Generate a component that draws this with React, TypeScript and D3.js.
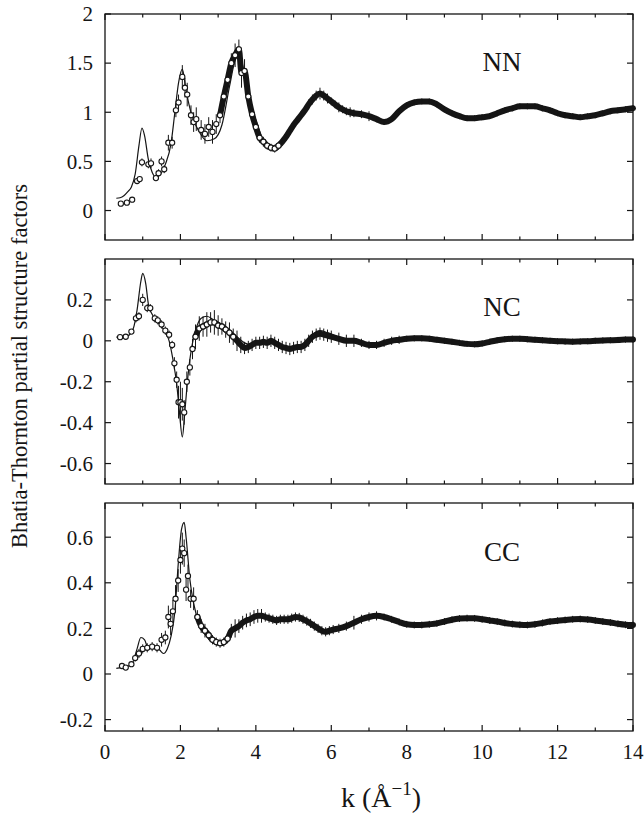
import React from 'react';
import * as d3 from 'd3';

// ---------- axis ticks ----------
const kMajor = [0, 2, 4, 6, 8, 10, 12, 14];
const kMinor = [1, 3, 5, 7, 9, 11, 13];
const nnTicks = [0, 0.5, 1, 1.5, 2];
const ncTicks = [-0.6, -0.4, -0.2, 0, 0.2];
const ccTicks = [-0.2, 0, 0.2, 0.4, 0.6];

// ---------- NN ----------
const nnModel: [number, number][] = [
  [0.3, 0.125], [0.4, 0.13], [0.5, 0.15], [0.6, 0.19], [0.7, 0.24], [0.8, 0.37], [0.9, 0.66], [0.98, 0.84],
  [1.05, 0.76], [1.15, 0.52], [1.25, 0.39], [1.35, 0.34], [1.45, 0.36], [1.6, 0.47], [1.75, 0.68], [1.85, 0.99],
  [1.95, 1.3], [2.05, 1.44], [2.15, 1.22], [2.3, 0.97], [2.5, 0.8], [2.7, 0.71], [2.9, 0.73], [3.1, 0.87],
  [3.3, 1.26], [3.45, 1.53], [3.55, 1.6], [3.7, 1.39], [3.85, 1.12], [4.0, 0.92], [4.2, 0.71], [4.4, 0.63],
  [4.6, 0.66], [4.8, 0.76], [5.0, 0.87], [5.3, 1.02], [5.6, 1.18], [5.8, 1.17], [6.0, 1.11], [6.3, 1.03],
  [6.6, 0.99], [7.0, 0.96], [7.3, 0.91], [7.5, 0.91], [7.8, 1.01], [8.1, 1.09], [8.4, 1.11], [8.7, 1.1],
  [9.0, 1.03], [9.3, 0.97], [9.6, 0.94], [9.9, 0.94], [10.2, 0.96], [10.5, 1.0], [10.8, 1.04], [11.1, 1.06],
  [11.4, 1.06], [11.7, 1.03], [12.0, 0.99], [12.3, 0.96], [12.6, 0.95], [12.9, 0.96], [13.2, 0.99], [13.5, 1.01],
  [13.8, 1.03], [14.0, 1.04],
];
const nnData: [number, number, number][] = [
  [0.42, 0.07, 0.01], [0.58, 0.08, 0.01], [0.72, 0.11, 0.015], [0.85, 0.3, 0.03], [0.92, 0.32, 0.03],
  [0.98, 0.49, 0.04], [1.15, 0.47, 0.04], [1.22, 0.48, 0.05], [1.35, 0.33, 0.03], [1.42, 0.38, 0.04],
  [1.5, 0.5, 0.05], [1.57, 0.42, 0.04], [1.68, 0.69, 0.08], [1.78, 0.69, 0.06], [1.88, 1.02, 0.07],
  [1.95, 1.1, 0.08], [2.05, 1.36, 0.12], [2.12, 1.25, 0.1], [2.18, 1.18, 0.12], [2.28, 0.97, 0.1],
  [2.35, 0.9, 0.1], [2.42, 0.93, 0.12], [2.55, 0.82, 0.1], [2.65, 0.78, 0.1], [2.75, 0.85, 0.1],
  [2.85, 0.8, 0.12], [2.95, 0.88, 0.1], [3.05, 0.97, 0.08], [3.15, 1.16, 0.1], [3.25, 1.33, 0.1],
  [3.35, 1.5, 0.1], [3.45, 1.58, 0.12], [3.55, 1.64, 0.1], [3.62, 1.4, 0.15], [3.7, 1.42, 0.12],
  [3.8, 1.16, 0.08], [3.9, 0.98, 0.06], [4.0, 0.85, 0.06], [4.1, 0.74, 0.05], [4.2, 0.7, 0.05],
  [4.3, 0.66, 0.04], [4.4, 0.64, 0.04], [4.5, 0.63, 0.04], [4.6, 0.66, 0.04], [4.7, 0.7, 0.04],
  [4.8, 0.75, 0.04], [4.9, 0.81, 0.04], [5.0, 0.87, 0.04], [5.1, 0.92, 0.04], [5.2, 0.97, 0.04],
  [5.3, 1.02, 0.04], [5.4, 1.08, 0.05], [5.5, 1.13, 0.05], [5.6, 1.17, 0.05], [5.7, 1.19, 0.06],
  [5.8, 1.17, 0.05], [5.9, 1.14, 0.05], [6.0, 1.11, 0.04], [6.1, 1.08, 0.04], [6.2, 1.05, 0.05],
  [6.3, 1.03, 0.04], [6.4, 1.01, 0.04], [6.5, 1.0, 0.05], [6.6, 0.99, 0.04], [6.8, 0.98, 0.04],
  [7.0, 0.96, 0.05], [7.2, 0.93, 0.03], [7.4, 0.9, 0.03], [7.6, 0.93, 0.03], [7.8, 1.01, 0.03],
  [8.0, 1.07, 0.03], [8.2, 1.1, 0.03], [8.4, 1.11, 0.03], [8.6, 1.11, 0.03], [8.8, 1.08, 0.03],
  [9.0, 1.03, 0.03], [9.2, 0.99, 0.03], [9.4, 0.96, 0.03], [9.6, 0.94, 0.03], [9.8, 0.94, 0.03],
  [10.0, 0.95, 0.03], [10.2, 0.96, 0.03], [10.4, 0.99, 0.03], [10.6, 1.02, 0.03], [10.8, 1.04, 0.03],
  [11.0, 1.06, 0.03], [11.2, 1.06, 0.03], [11.4, 1.06, 0.03], [11.6, 1.04, 0.03], [11.8, 1.02, 0.03],
  [12.0, 0.99, 0.03], [12.2, 0.97, 0.03], [12.4, 0.96, 0.03], [12.6, 0.95, 0.03], [12.8, 0.96, 0.03],
  [13.0, 0.97, 0.03], [13.2, 0.99, 0.03], [13.4, 1.01, 0.03], [13.6, 1.02, 0.03], [13.8, 1.03, 0.03],
  [14.0, 1.04, 0.03],
];

// ---------- NC ----------
const ncModel: [number, number][] = [
  [0.3, 0.018], [0.6, 0.024], [0.75, 0.06], [0.85, 0.15], [0.95, 0.29], [1.0, 0.33], [1.08, 0.28],
  [1.15, 0.18], [1.25, 0.13], [1.35, 0.1], [1.5, 0.07], [1.6, 0.04], [1.7, 0.0], [1.8, -0.09],
  [1.9, -0.21], [1.97, -0.34], [2.05, -0.47], [2.12, -0.34], [2.2, -0.17], [2.3, -0.03], [2.4, 0.05],
  [2.55, 0.11], [2.7, 0.12], [2.9, 0.1], [3.1, 0.08], [3.3, 0.05], [3.5, 0.02], [3.7, -0.01],
  [3.9, -0.02], [4.2, -0.005], [4.5, -0.01], [4.8, -0.03], [5.0, -0.035], [5.3, -0.02], [5.5, 0.03],
  [5.7, 0.05], [5.9, 0.04], [6.2, 0.018], [6.6, 0.005], [6.9, -0.015], [7.1, -0.02], [7.4, -0.003],
  [7.7, 0.008], [8.0, 0.015], [8.3, 0.018], [8.6, 0.015], [8.9, 0.008], [9.2, -0.003], [9.5, -0.011],
  [9.8, -0.015], [10.0, -0.01], [10.3, 0.002], [10.6, 0.01], [10.9, 0.013], [11.2, 0.011], [11.5, 0.008],
  [11.8, 0.005], [12.1, 0.002], [12.4, 0.0], [12.7, 0.0], [13.0, 0.002], [13.3, 0.005], [13.6, 0.006],
  [14.0, 0.01],
];
const ncData: [number, number, number][] = [
  [0.4, 0.018, 0.01], [0.55, 0.02, 0.01], [0.7, 0.045, 0.01], [0.82, 0.11, 0.02], [0.9, 0.12, 0.02],
  [1.0, 0.2, 0.03], [1.12, 0.16, 0.02], [1.2, 0.16, 0.02], [1.32, 0.11, 0.02], [1.4, 0.1, 0.02],
  [1.5, 0.08, 0.02], [1.6, 0.05, 0.02], [1.7, 0.03, 0.02], [1.78, -0.02, 0.02], [1.84, -0.11, 0.03],
  [1.9, -0.19, 0.04], [1.95, -0.3, 0.08], [2.0, -0.3, 0.1], [2.05, -0.31, 0.08], [2.1, -0.35, 0.06],
  [2.17, -0.2, 0.05], [2.25, -0.13, 0.04], [2.32, -0.04, 0.05], [2.4, 0.02, 0.06], [2.5, 0.06, 0.06],
  [2.6, 0.07, 0.05], [2.7, 0.08, 0.06], [2.8, 0.09, 0.05], [2.9, 0.09, 0.06], [3.0, 0.075, 0.05],
  [3.1, 0.07, 0.04], [3.2, 0.055, 0.04], [3.3, 0.04, 0.05], [3.4, 0.02, 0.04], [3.5, 0.0, 0.05],
  [3.6, -0.02, 0.04], [3.7, -0.035, 0.03], [3.8, -0.03, 0.03], [3.9, -0.02, 0.03], [4.0, -0.01, 0.03],
  [4.1, -0.01, 0.03], [4.2, -0.005, 0.03], [4.3, -0.01, 0.03], [4.4, 0.0, 0.03], [4.5, -0.01, 0.03],
  [4.6, -0.02, 0.03], [4.7, -0.03, 0.03], [4.8, -0.035, 0.03], [4.9, -0.04, 0.03], [5.0, -0.035, 0.03],
  [5.1, -0.03, 0.03], [5.2, -0.03, 0.03], [5.3, -0.02, 0.03], [5.4, 0.0, 0.03], [5.5, 0.02, 0.03],
  [5.6, 0.03, 0.03], [5.7, 0.035, 0.03], [5.8, 0.03, 0.03], [5.9, 0.025, 0.03], [6.0, 0.02, 0.03],
  [6.2, 0.01, 0.03], [6.4, 0.0, 0.03], [6.6, 0.0, 0.03], [6.8, -0.01, 0.02], [7.0, -0.02, 0.02],
  [7.2, -0.02, 0.02], [7.4, -0.01, 0.02], [7.6, 0.0, 0.02], [7.8, 0.005, 0.02], [8.0, 0.01, 0.015],
  [8.2, 0.012, 0.015], [8.4, 0.012, 0.015], [8.6, 0.01, 0.015], [8.8, 0.005, 0.015], [9.0, 0.0, 0.015],
  [9.2, -0.005, 0.015], [9.4, -0.01, 0.015], [9.6, -0.015, 0.015], [9.8, -0.017, 0.015], [10.0, -0.013, 0.015],
  [10.2, -0.005, 0.015], [10.4, 0.003, 0.015], [10.6, 0.008, 0.015], [10.8, 0.01, 0.015], [11.0, 0.01, 0.015],
  [11.2, 0.008, 0.015], [11.4, 0.005, 0.015], [11.6, 0.003, 0.015], [11.8, 0.0, 0.015], [12.0, -0.002, 0.015],
  [12.2, -0.003, 0.015], [12.4, -0.004, 0.015], [12.6, -0.003, 0.015], [12.8, -0.002, 0.015], [13.0, 0.0, 0.015],
  [13.2, 0.002, 0.015], [13.4, 0.003, 0.015], [13.6, 0.004, 0.015], [13.8, 0.006, 0.015], [14.0, 0.007, 0.015],
];

// ---------- CC ----------
const ccModel: [number, number][] = [
  [0.3, 0.025], [0.5, 0.03], [0.7, 0.04], [0.85, 0.11], [0.95, 0.16], [1.05, 0.15], [1.15, 0.11],
  [1.3, 0.12], [1.45, 0.105], [1.55, 0.09], [1.65, 0.11], [1.75, 0.165], [1.85, 0.27], [1.95, 0.5],
  [2.03, 0.635], [2.1, 0.665], [2.15, 0.6], [2.25, 0.415], [2.35, 0.31], [2.5, 0.22], [2.7, 0.165],
  [2.9, 0.14], [3.0, 0.135], [3.2, 0.15], [3.4, 0.185], [3.6, 0.22], [3.9, 0.25], [4.2, 0.253],
  [4.5, 0.24], [4.8, 0.24], [5.1, 0.25], [5.4, 0.23], [5.7, 0.195], [5.9, 0.18], [6.2, 0.2],
  [6.5, 0.22], [6.9, 0.246], [7.2, 0.256], [7.5, 0.246], [7.8, 0.227], [8.1, 0.216], [8.4, 0.216],
  [8.7, 0.22], [9.0, 0.231], [9.3, 0.241], [9.6, 0.246], [9.9, 0.243], [10.2, 0.235], [10.5, 0.227],
  [10.8, 0.219], [11.1, 0.215], [11.4, 0.219], [11.7, 0.227], [12.0, 0.234], [12.3, 0.238], [12.6, 0.241],
  [12.9, 0.238], [13.2, 0.231], [13.5, 0.224], [13.8, 0.216], [14.0, 0.216],
];
const ccData: [number, number, number][] = [
  [0.45, 0.035, 0.01], [0.55, 0.028, 0.01], [0.7, 0.043, 0.01], [0.8, 0.07, 0.015], [0.9, 0.09, 0.02],
  [1.0, 0.11, 0.02], [1.12, 0.115, 0.02], [1.25, 0.12, 0.02], [1.38, 0.115, 0.02], [1.5, 0.15, 0.03],
  [1.6, 0.16, 0.03], [1.68, 0.25, 0.05], [1.74, 0.22, 0.05], [1.8, 0.275, 0.05], [1.87, 0.33, 0.06],
  [1.94, 0.41, 0.05], [2.0, 0.5, 0.06], [2.05, 0.55, 0.07], [2.1, 0.53, 0.06], [2.15, 0.37, 0.05],
  [2.2, 0.43, 0.05], [2.27, 0.33, 0.04], [2.35, 0.33, 0.05], [2.45, 0.25, 0.03], [2.55, 0.21, 0.03],
  [2.65, 0.19, 0.03], [2.75, 0.17, 0.02], [2.85, 0.15, 0.02], [2.95, 0.14, 0.02], [3.05, 0.135, 0.02],
  [3.15, 0.14, 0.02], [3.25, 0.155, 0.02], [3.35, 0.19, 0.03], [3.45, 0.2, 0.04], [3.55, 0.21, 0.03],
  [3.65, 0.225, 0.03], [3.75, 0.235, 0.03], [3.85, 0.24, 0.03], [3.95, 0.25, 0.03], [4.05, 0.255, 0.03],
  [4.15, 0.255, 0.03], [4.25, 0.25, 0.02], [4.35, 0.245, 0.02], [4.45, 0.24, 0.02], [4.55, 0.235, 0.02],
  [4.65, 0.24, 0.02], [4.75, 0.24, 0.02], [4.85, 0.24, 0.02], [4.95, 0.245, 0.02], [5.05, 0.25, 0.02],
  [5.15, 0.248, 0.02], [5.25, 0.24, 0.02], [5.35, 0.232, 0.02], [5.45, 0.222, 0.02], [5.55, 0.21, 0.02],
  [5.65, 0.2, 0.02], [5.75, 0.19, 0.02], [5.85, 0.185, 0.02], [5.95, 0.19, 0.02], [6.05, 0.195, 0.02],
  [6.2, 0.2, 0.02], [6.4, 0.21, 0.02], [6.6, 0.225, 0.03], [6.8, 0.24, 0.02], [7.0, 0.25, 0.02],
  [7.2, 0.255, 0.02], [7.4, 0.25, 0.015], [7.6, 0.24, 0.015], [7.8, 0.228, 0.015], [8.0, 0.218, 0.015],
  [8.2, 0.215, 0.015], [8.4, 0.215, 0.015], [8.6, 0.218, 0.015], [8.8, 0.222, 0.015], [9.0, 0.23, 0.015],
  [9.2, 0.238, 0.015], [9.4, 0.243, 0.015], [9.6, 0.245, 0.015], [9.8, 0.244, 0.015], [10.0, 0.24, 0.015],
  [10.2, 0.235, 0.015], [10.4, 0.23, 0.015], [10.6, 0.224, 0.015], [10.8, 0.219, 0.015], [11.0, 0.216, 0.015],
  [11.2, 0.215, 0.015], [11.4, 0.218, 0.015], [11.6, 0.224, 0.015], [11.8, 0.23, 0.015], [12.0, 0.234, 0.015],
  [12.2, 0.237, 0.015], [12.4, 0.24, 0.015], [12.6, 0.241, 0.015], [12.8, 0.239, 0.015], [13.0, 0.235, 0.015],
  [13.2, 0.23, 0.015], [13.4, 0.226, 0.015], [13.6, 0.22, 0.015], [13.8, 0.216, 0.015], [14.0, 0.215, 0.015],
];

const panels = [
  { name: 'NN', model: nnModel, data: nnData, domain: [-0.3, 2], top: 14, bottom: 240, ticks: nnTicks, bandFrom: 3.0, circlesTo: 4.65, labelY: 71 },
  { name: 'NC', model: ncModel, data: ncData, domain: [-0.7, 0.4], top: 259, bottom: 484, ticks: ncTicks, bandFrom: 2.4, circlesTo: 3.45, labelY: 316 },
  { name: 'CC', model: ccModel, data: ccData, domain: [-0.25, 0.75], top: 503, bottom: 731, ticks: ccTicks, bandFrom: 2.4, circlesTo: 3.3, labelY: 561 },
];

const INK = '#151515';
const FONT = "'Liberation Serif','Times New Roman',serif";

export default function App() {
  const x = d3.scaleLinear().domain([0, 14]).range([105, 633]);
  const x0 = x(0), x1 = x(14);

  return (
    <svg width={644} height={817} style={{ position: 'absolute', left: 0, top: 0, background: '#fff' }} fontFamily={FONT}>
      <rect x={0} y={0} width={644} height={817} fill="#fff" />
      {panels.map((p) => {
        const y = d3.scaleLinear().domain(p.domain).range([p.bottom, p.top]);
        const modelLine = d3.line<[number, number]>().x((d) => x(d[0])).y((d) => y(d[1])).curve(d3.curveMonotoneX);
        const bandLine = d3.line<[number, number, number]>().x((d) => x(d[0])).y((d) => y(d[1])).curve(d3.curveMonotoneX);
        const band = p.data.filter((d) => d[0] >= p.bandFrom);
        const circles = p.data.filter((d) => d[0] <= p.circlesTo);
        return (
          <g key={p.name}>
            {/* model curve */}
            <path d={modelLine(p.model) || ''} fill="none" stroke={INK} strokeWidth={1.2} />
            {/* dense data band */}
            <path d={bandLine(band) || ''} fill="none" stroke={INK} strokeWidth={6} strokeLinecap="round" strokeLinejoin="round" />
            {/* error bars */}
            {p.data.map((d, i) => (
              <line key={'e' + i} x1={x(d[0])} x2={x(d[0])} y1={y(d[1] - d[2])} y2={y(d[1] + d[2])} stroke={INK} strokeWidth={1} />
            ))}
            {/* open circles */}
            {circles.map((d, i) => (
              <circle key={'c' + i} cx={x(d[0])} cy={y(d[1])} r={2.6} fill="#fff" stroke={INK} strokeWidth={1.1} />
            ))}
            {/* frame */}
            <rect x={x0} y={p.top} width={x1 - x0} height={p.bottom - p.top} fill="none" stroke={INK} strokeWidth={1.3} />
            {/* x ticks */}
            {kMajor.map((k) => (
              <g key={'M' + k}>
                <line x1={x(k)} x2={x(k)} y1={p.bottom} y2={p.bottom - 6} stroke={INK} strokeWidth={1.2} />
                <line x1={x(k)} x2={x(k)} y1={p.top} y2={p.top + 6} stroke={INK} strokeWidth={1.2} />
              </g>
            ))}
            {kMinor.map((k) => (
              <g key={'m' + k}>
                <line x1={x(k)} x2={x(k)} y1={p.bottom} y2={p.bottom - 3.5} stroke={INK} strokeWidth={1.2} />
                <line x1={x(k)} x2={x(k)} y1={p.top} y2={p.top + 3.5} stroke={INK} strokeWidth={1.2} />
              </g>
            ))}
            {/* y ticks + labels */}
            {p.ticks.map((t) => (
              <g key={'y' + t}>
                <line x1={x0} x2={x0 + 6} y1={y(t)} y2={y(t)} stroke={INK} strokeWidth={1.2} />
                <line x1={x1} x2={x1 - 6} y1={y(t)} y2={y(t)} stroke={INK} strokeWidth={1.2} />
                <text x={93} y={y(t)} dy="0.35em" textAnchor="end" fontSize={21} fill={INK}>{String(t)}</text>
              </g>
            ))}
            <text x={502} y={p.labelY} textAnchor="middle" fontSize={27} fill={INK}>{p.name}</text>
          </g>
        );
      })}
      {/* x tick labels */}
      {kMajor.map((k) => (
        <text key={'xl' + k} x={x(k)} y={759} textAnchor="middle" fontSize={21} fill={INK}>{String(k)}</text>
      ))}
      {/* axis titles */}
      <text x={381} y={807} textAnchor="middle" fontSize={28} fill={INK}>
        k (Å<tspan fontSize={19} dy={-12}>−1</tspan><tspan dy={12}>)</tspan>
      </text>
      <text transform="translate(27,366) rotate(-90)" textAnchor="middle" fontSize={22.5} fill={INK}>
        Bhatia-Thornton partial structure factors
      </text>
    </svg>
  );
}
